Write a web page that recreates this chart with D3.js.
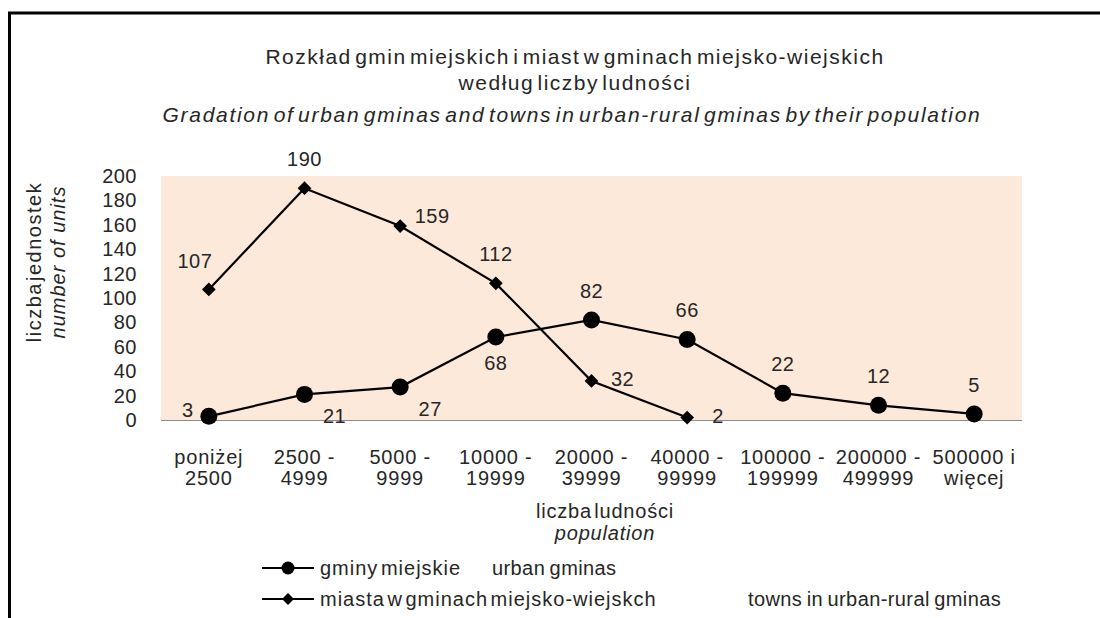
<!DOCTYPE html>
<html>
<head>
<meta charset="utf-8">
<script src="https://cdn.jsdelivr.net/npm/d3@7.9.0/dist/d3.min.js"></script>
<style>
  body { margin: 0; background: #fff; }
  svg { font-family: "Liberation Sans", Arial, sans-serif; }
  text { fill: #262626; }
</style>
</head>
<body>
<svg id="chart" width="1100" height="618"></svg>
<script>
const categories = [
    ['poniżej', '2500'],
    ['2500 -', '4999'],
    ['5000 -', '9999'],
    ['10000 -', '19999'],
    ['20000 -', '39999'],
    ['40000 -', '99999'],
    ['100000 -', '199999'],
    ['200000 -', '499999'],
    ['500000 i', 'więcej']
];
const urbanGminas = [3, 21, 27, 68, 82, 66, 22, 12, 5];
const towns = [107, 190, 159, 112, 32, 2];
const yTicks = [0, 20, 40, 60, 80, 100, 120, 140, 160, 180, 200];

// label placement per point
const urbanPos = ['left', 'below-right', 'below-right', 'below', 'above', 'above', 'above', 'above', 'above'];
const townPos = ['above-left', 'above', 'up-right', 'above', 'right', 'right'];

const svg = d3.select('#chart');
const plot = { left: 161, right: 1022, top: 176, bottom: 420 };

// frame
svg.append('line').attr('x1', 8).attr('x2', 1100).attr('y1', 13).attr('y2', 13)
    .attr('stroke', '#000').attr('stroke-width', 3);
svg.append('line').attr('x1', 9.5).attr('x2', 9.5).attr('y1', 12).attr('y2', 618)
    .attr('stroke', '#000').attr('stroke-width', 3);

let x = d3.scaleBand().domain(d3.range(categories.length)).range([plot.left, plot.right]);
let y = d3.scaleLinear().domain([0, 200]).range([plot.bottom, plot.top]);
const cx = (i) => x(i) + x.bandwidth() / 2;

svg.append('rect')
    .attr('x', plot.left).attr('y', plot.top)
    .attr('width', plot.right - plot.left).attr('height', plot.bottom - plot.top)
    .attr('fill', '#fde9d9');

svg.append('line')
    .attr('x1', plot.left).attr('x2', plot.right)
    .attr('y1', y(0) + 0.5).attr('y2', y(0) + 0.5)
    .attr('stroke', '#8c8c8c').attr('stroke-width', 1.2);

// title
const title = svg.append('g').attr('text-anchor', 'middle')
    .style('font-size', '21px').style('letter-spacing', '1.5px').style('word-spacing', '-4px');
title.append('text').attr('x', 575).attr('y', 64).text('Rozkład gmin miejskich i miast w gminach miejsko-wiejskich');
title.append('text').attr('x', 575).attr('y', 90).text('według liczby ludności');
title.append('text').attr('x', 572).attr('y', 122).style('font-style', 'italic').style('letter-spacing', '1.7px')
    .text('Gradation of urban gminas and towns in urban-rural gminas by their population');

// y axis labels
svg.append('g').selectAll('text').data(yTicks).join('text')
    .attr('x', 137).attr('y', (d) => y(d) + 7)
    .attr('text-anchor', 'end').style('font-size', '20px').style('letter-spacing', '0.5px')
    .text((d) => d);

const yTitle = svg.append('g').attr('transform', 'translate(0,262) rotate(-90)')
    .attr('text-anchor', 'middle').style('font-size', '20px').style('letter-spacing', '1.5px');
yTitle.append('text').attr('x', 0).attr('y', 41).style('word-spacing', '-6px').text('liczba jednostek');
yTitle.append('text').attr('x', 0).attr('y', 65).style('font-style', 'italic').style('letter-spacing', '1px')
    .text('number of units');

// x axis labels
const xl = svg.append('g').attr('text-anchor', 'middle')
    .style('font-size', '20px').style('letter-spacing', '0.8px');
categories.forEach((c, i) => {
    xl.append('text').attr('x', cx(i)).attr('y', 464).text(c[0]);
    xl.append('text').attr('x', cx(i)).attr('y', 485).text(c[1]);
});
const xTitle = svg.append('g').attr('text-anchor', 'middle')
    .style('font-size', '20px').style('letter-spacing', '0.8px').style('word-spacing', '-4px');
xTitle.append('text').attr('x', 605).attr('y', 518).text('liczba ludności');
xTitle.append('text').attr('x', 605).attr('y', 540).style('font-style', 'italic').text('population');

// lines
const line = d3.line().x((d, i) => cx(i)).y((d) => y(d));
svg.append('path').datum(urbanGminas).attr('d', line)
    .attr('fill', 'none').attr('stroke', '#000').attr('stroke-width', 2.2);
svg.append('path').datum(towns).attr('d', line)
    .attr('fill', 'none').attr('stroke', '#000').attr('stroke-width', 2.2);

svg.append('g').selectAll('circle').data(urbanGminas).join('circle')
    .attr('cx', (d, i) => cx(i)).attr('cy', (d) => y(d)).attr('r', 8.5).attr('fill', '#000');

const diamond = d3.symbol().type(d3.symbolDiamond2).size(120);
svg.append('g').selectAll('path').data(towns).join('path')
    .attr('transform', (d, i) => `translate(${cx(i)},${y(d)})`)
    .attr('d', diamond).attr('fill', '#000');

// data labels
function offset(pos) {
    switch (pos) {
        case 'left': return [-21, -6];
        case 'right': return [31, -2];
        case 'up-right': return [32, -10];
        case 'above': return [0, -29];
        case 'above-left': return [-14, -28];
        case 'below': return [0, 26];
        case 'below-right': return [30, 22];
    }
}
const labels = svg.append('g').attr('text-anchor', 'middle')
    .style('font-size', '20px').style('letter-spacing', '0.5px');
urbanGminas.forEach((v, i) => {
    const [dx, dy] = offset(urbanPos[i]);
    labels.append('text').attr('x', cx(i) + dx).attr('y', y(v) + dy + 7).text(v);
});
towns.forEach((v, i) => {
    const [dx, dy] = offset(townPos[i]);
    labels.append('text').attr('x', cx(i) + dx).attr('y', y(v) + dy + 7).text(v);
});

// legend
const legend = svg.append('g').style('font-size', '20px');
const legendRows = [
    { pl: 'gminy miejskie', en: 'urban gminas', en_x: 492, marker: 'circle' },
    { pl: 'miasta w gminach miejsko-wiejskch', en: 'towns in urban-rural gminas', en_x: 748, marker: 'diamond' }
];
legendRows.forEach((r, i) => {
    const ly = 568 + i * 31;
    legend.append('line').attr('x1', 262).attr('x2', 314).attr('y1', ly).attr('y2', ly)
        .attr('stroke', '#000').attr('stroke-width', 2.2);
    if (r.marker === 'circle') {
        legend.append('circle').attr('cx', 288).attr('cy', ly).attr('r', 6.5).attr('fill', '#000');
    } else {
        legend.append('path').attr('transform', `translate(288,${ly})`)
            .attr('d', d3.symbol().type(d3.symbolDiamond2).size(90)).attr('fill', '#000');
    }
    legend.append('text').attr('x', 320).attr('y', ly + 7)
        .style('letter-spacing', '1px').style('word-spacing', '-4px').text(r.pl);
    legend.append('text').attr('x', r.en_x).attr('y', ly + 7)
        .style('letter-spacing', '0.4px').style('word-spacing', '-1.5px').text(r.en);
});
</script>
</body>
</html>
